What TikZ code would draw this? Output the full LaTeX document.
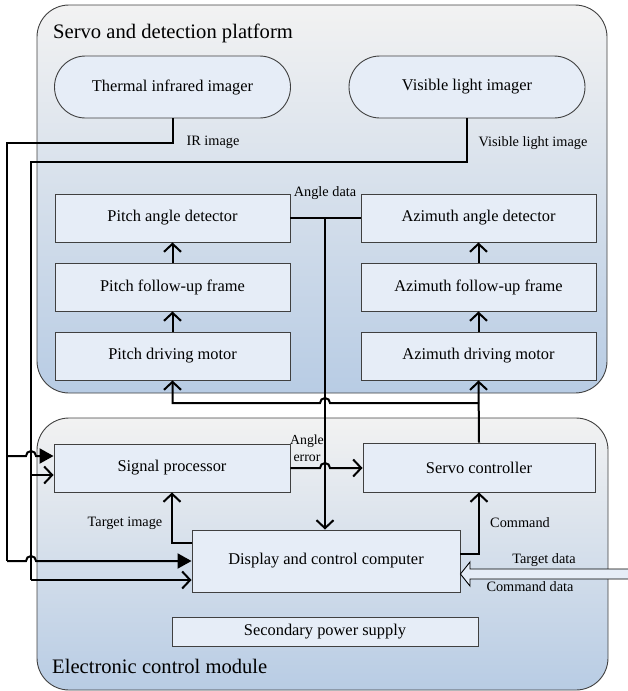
\documentclass[tikz,border=0pt]{standalone}
\usepackage{fontspec}
\setmainfont{Liberation Serif}
\usetikzlibrary{arrows.meta,calc}

\definecolor{boxfill}{RGB}{230,237,247}
\definecolor{panetop}{RGB}{242,242,242}
\definecolor{panebot}{RGB}{184,204,228}
\definecolor{edge}{RGB}{64,64,64}

\begin{document}
\begin{tikzpicture}[x=1pt,y=-1pt,>={Straight Barb[length=8pt,width=17pt]},
                node distance=69pt,
                unit/.style={rectangle,draw=edge,fill=boxfill,line width=0.9pt,inner sep=0pt,
                  font=\fontsize{16.4}{19}\selectfont},
                imager/.style={unit,rounded corners=31pt,minimum width=236pt,minimum height=62pt},
                frame unit/.style={unit,minimum width=235pt,minimum height=48pt},
                pane/.style={draw=edge,line width=0.9pt,rounded corners=32pt,top color=panetop,bottom color=panebot},
                title/.style={anchor=base west,inner sep=0pt,font=\fontsize{20.6}{24}\selectfont},
                tag/.style={inner sep=0pt,font=\fontsize{14.3}{17}\selectfont},
                bus/.style={line width=2pt}]
                \useasboundingbox (0,0) rectangle (628,691);

                % the two modules
                \draw[pane] (37,5) rectangle (607,393);
                \draw[pane] (37,418) rectangle (608,690);
                \node[title] (sdp) at (53,38) {Servo and detection platform};
                \node[title] (ecm) at (52,673) {Electronic control module};

                % servo and detection platform
                \node[imager] (tir) at (172.5,87) {Thermal infrared imager};
                \node[imager] (vis) at (467,87) {Visible light imager};
                \node[frame unit] (pad) at (172.5,218) {Pitch angle detector};
                \node[frame unit] (pfr) [below of=pad] {Pitch follow-up frame};
                \node[frame unit] (pdm) [below of=pfr] {Pitch driving motor};
                \node[frame unit] (aad) at (478.5,218) {Azimuth angle detector};
                \node[frame unit] (afr) [below of=aad] {Azimuth follow-up frame};
                \node[frame unit] (adm) [below of=afr] {Azimuth driving motor};

                % electronic control module
                \node[unit,minimum width=236pt,minimum height=48pt] (sig) at (172,468) {Signal processor};
                \node[unit,minimum width=232pt,minimum height=49pt] (srv) at (479,467.5) {Servo controller};
                \node[unit,minimum width=268pt,minimum height=62pt] (dcc) at (326,561) {Display and control computer};
                \node[unit,minimum width=306pt,minimum height=29pt] (psu) at (325,631.5) {Secondary power supply};

                % labels
                \node[tag] (lir) at (213,142) {IR image};
                \node[tag] (lvis) at (533,143) {Visible light image};
                \node[tag] (lad) at (325,193) {Angle data};
                \node[tag,align=center,font=\fontsize{13.8}{17}\selectfont] (lae) at (307,448) {Angle\\error};
                \node[tag] (lti) at (125,523) {Target image};
                \node[tag] (lcmd) at (520,523) {Command};
                \node[tag] (ltd) at (544,560) {Target data};
                \node[tag] (lcd) at (530,587) {Command data};

                \coordinate (irA) at (7,143);
                \coordinate (irB) at (7,456);
                \coordinate (irC) at (7,561);
                \coordinate (vsA) at (31,162);
                \coordinate (vsB) at (31,475);
                \coordinate (vsC) at (31,580);
                \coordinate (ad) at (325,218);
                \coordinate (mb) at (479,403);
                \coordinate (tg) at (192,543);
                \coordinate (cm) at (460,554);
                \coordinate (cin) at (632,574);

                % image lines
                \draw[bus] (tir.south) |- (irA) -- (irC);
                \draw[bus,-{Triangle[length=14pt,width=15pt]}] (irB) -- (26,456)
                  arc[start angle=180,end angle=0,radius=5pt] -- (irB -| sig.west);
                \draw[bus,-{Triangle[length=14pt,width=15pt]}] (irC) -- (26,561)
                  arc[start angle=180,end angle=0,radius=5pt] -- (irC -| dcc.west);
                \draw[bus] (vis.south) |- (vsA) -- (vsC);
                \draw[bus,->] (vsB) -- (vsB -| sig.west);
                \draw[bus,->] (vsC) -- (vsC -| dcc.west);

                % platform chains
                \draw[bus,->] (pdm) -- (pfr);
                \draw[bus,->] (pfr) -- (pad);
                \draw[bus,->] (adm) -- (afr);
                \draw[bus,->] (afr) -- (aad);
                \draw[bus] (pad.east) -- (aad.west);
                \draw[bus,->] (ad) -- (ad |- dcc.north);
                \draw[bus,->] (srv.north) -- (adm.south);
                \draw[bus,->] (mb) -- (330,403)
                  arc[start angle=0,end angle=180,radius=5pt] -- (mb -| pdm.south) -- (pdm.south);

                % control lines
                \draw[bus,->] (sig.east) -- (320,468)
                  arc[start angle=180,end angle=0,radius=5pt] -- (sig.east -| srv.west);
                \draw[bus,->] (tg) -| (sig.south);
                \draw[bus,->] (cm) -| (srv.south);
                \draw[line width=0.9pt,fill=boxfill] (cin) ++(0,-5) -- (470,569) -- (470,562)
                  -- (dcc.east |- cin) -- (470,586) -- (470,579) -- ($(cin)+(0,5)$) -- cycle;
                \end{tikzpicture}
\end{document}
